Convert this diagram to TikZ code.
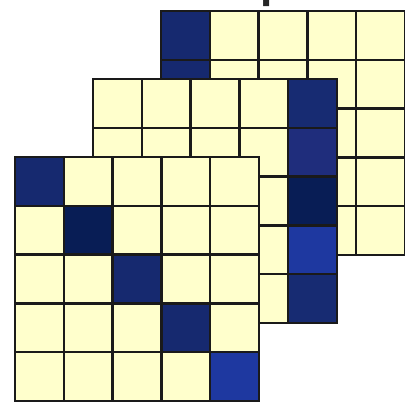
\documentclass[tikz,border=0pt]{standalone}
\usepackage{fontspec}
\setmainfont{Liberation Sans}
\definecolor{cellyellow}{HTML}{FFFFCC}
\definecolor{blueA}{HTML}{16296F}
\definecolor{blueB}{HTML}{081D55}
\definecolor{blueC}{HTML}{1E38A0}
\definecolor{blueD}{HTML}{1F2D7C}
\definecolor{blueE}{HTML}{172B72}
\definecolor{gridline}{HTML}{1A1A1A}
\tikzset{
  gridstroke/.style={draw=gridline, line width=2.5pt, line cap=rect},
  titletext/.style={anchor=base west, font=\bfseries\fontsize{44}{44}\selectfont, text=black!85, inner sep=0pt},
}
% grid origin = top-left corner; y grows upward, rows go down
\newcommand\mygridpic[2]{%
  \begin{scope}[shift={#1}]
    \fill[cellyellow] (0,0) rectangle (244,-244);
    \foreach \cc/\rr/\col in {#2} {\fill[\col] (\cc*48.8,-\rr*48.8) rectangle ++(48.8,-48.8);}
    \foreach \i in {1,...,4} {
      \draw[gridstroke] (\i*48.8,0) -- (\i*48.8,-244);
      \draw[gridstroke] (0,-\i*48.8) -- (244,-\i*48.8);
    }
    \draw[gridstroke, line join=miter] (0,0) rectangle (244,-244);
  \end{scope}}
\begin{document}
\begin{tikzpicture}[x=1pt,y=1pt]
\useasboundingbox (0,-405) rectangle (405,0);
\clip (0,-405) rectangle (405,0);
\node[titletext] (title) at (-1,3) {Statistics of patterns};
\mygridpic{(161,-11)}{0/0/blueA, 0/1/blueA}
\mygridpic{(93,-79)}{4/0/blueE, 4/1/blueD, 4/2/blueB, 4/3/blueC, 4/4/blueE}
\mygridpic{(15,-157)}{0/0/blueA, 1/1/blueB, 2/2/blueA, 3/3/blueA, 4/4/blueC}
\end{tikzpicture}
\end{document}
